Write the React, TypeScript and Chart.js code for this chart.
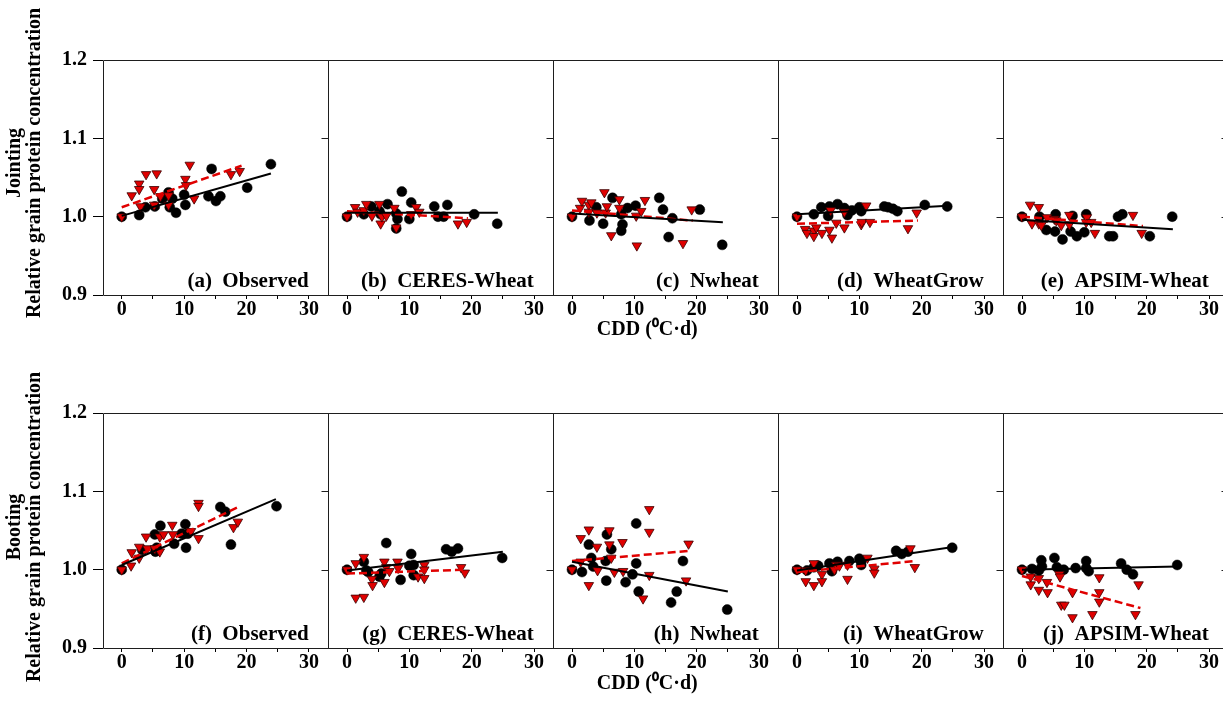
import React, { useEffect, useRef } from "react";
import { Chart, registerables } from "chart.js";

Chart.register(...registerables);

type P = [number, number];

// ---------- axis ticks ----------
const xTickValues = [0, 5, 10, 15, 20, 25, 30];
const xLabelEvery = 10;
const yTickValues = [0.9, 1.0, 1.1, 1.2];
const xMin = -3;
const xMax = 33;
const yMin = 0.9;
const yMax = 1.2;

const stageLabels = ["Jointing", "Booting"];
const yTitle = "Relative grain protein concentration";
const xTitle = "CDD (\u2070C\u00B7d)";
const panelLabels = [
  ["(a)  Observed", "(b)  CERES-Wheat", "(c)  Nwheat", "(d)  WheatGrow", "(e)  APSIM-Wheat"],
  ["(f)  Observed", "(g)  CERES-Wheat", "(h)  Nwheat", "(i)  WheatGrow", "(j)  APSIM-Wheat"],
];

// ---------- Jointing ----------
const jointObservedCircles: P[] = [[0, 1.0], [2.8, 1.002], [3.8, 1.012], [5.3, 1.013], [6.5, 1.023], [7.5, 1.031], [8.1, 1.023], [7.7, 1.012], [8.7, 1.005], [10, 1.028], [10.2, 1.015], [13.9, 1.026], [14.4, 1.061], [15.1, 1.02], [15.8, 1.026], [20.1, 1.037], [23.9, 1.067]];
const jointObservedTriangles: P[] = [[0, 1.0], [1.6, 1.027], [2.8, 1.042], [2.8, 1.035], [3, 1.013], [3.9, 1.054], [5.6, 1.055], [5.2, 1.035], [5.2, 1.015], [6.2, 1.026], [7.5, 1.027], [7.5, 1.015], [10.2, 1.048], [10.3, 1.04], [10.9, 1.066], [11.6, 1.023], [17.5, 1.054], [18.9, 1.058]];
const jointObservedFitCircles: P[] = [[0, 1.001], [23.9, 1.055]];
const jointObservedFitTriangles: P[] = [[0, 1.012], [19.2, 1.065]];

const jointCeresCircles: P[] = [[0, 1.0], [2.7, 1.003], [3.9, 1.013], [5.2, 1.007], [5.4, 1.003], [6.5, 1.016], [7.9, 1.004], [8.1, 0.997], [7.9, 0.985], [8.8, 1.032], [10, 0.997], [10.3, 1.018], [14, 1.013], [14.6, 1.0], [15.5, 1.0], [16.1, 1.015], [20.4, 1.003], [24.1, 0.991]];
const jointCeresTriangles: P[] = [[0, 1.0], [1.3, 1.012], [1.7, 1.006], [2.7, 1.008], [3.1, 1.016], [4, 1.001], [5.2, 1.016], [5.4, 0.991], [5.6, 1.0], [6.3, 1.001], [7.6, 1.011], [7.9, 0.986], [10.3, 1.003], [11.1, 1.012], [11.6, 1.006], [17.8, 0.991], [19.2, 0.993]];
const jointCeresFitCircles: P[] = [[0, 1.005], [24.2, 1.005]];
const jointCeresFitTriangles: P[] = [[0, 1.007], [19.4, 0.998]];

const jointNwheatCircles: P[] = [[0, 1.0], [2.8, 0.995], [3.9, 1.012], [5.0, 0.991], [6.5, 1.024], [7.9, 1.003], [8.1, 0.99], [7.9, 0.982], [8.9, 1.011], [10.2, 1.014], [14, 1.024], [14.6, 1.009], [16.1, 0.998], [15.5, 0.974], [20.5, 1.009], [24.1, 0.964]];
const jointNwheatTriangles: P[] = [[0, 1.0], [1.3, 1.011], [1.6, 1.02], [2.7, 1.015], [3.1, 1.018], [2.7, 1.006], [4, 1.005], [5.2, 1.031], [5.4, 1.005], [5.6, 1.013], [6.3, 0.976], [7.6, 1.022], [7.6, 1.011], [10.3, 1.001], [10.4, 0.963], [11.1, 1.007], [11.7, 1.021], [17.8, 0.966], [19.2, 1.009]];
const jointNwheatFitCircles: P[] = [[0, 1.004], [24.2, 0.993]];
const jointNwheatFitTriangles: P[] = [[0, 1.008], [19.4, 0.995]];

const jointWheatGrowCircles: P[] = [[0, 1.0], [2.7, 1.003], [3.9, 1.012], [5.2, 1.013], [5.0, 1.001], [6.5, 1.016], [7.6, 1.011], [8.1, 1.002], [8.8, 1.008], [10, 1.012], [10.3, 1.007], [14, 1.013], [14.6, 1.012], [15.4, 1.01], [16.1, 1.007], [20.5, 1.015], [24.1, 1.013]];
const jointWheatGrowTriangles: P[] = [[0, 1.0], [1.3, 0.984], [1.6, 0.979], [2.7, 0.982], [2.7, 0.975], [3.1, 0.986], [4, 0.979], [5.2, 0.983], [5.4, 1.008], [5.6, 0.973], [6.3, 0.992], [7.6, 1.006], [7.6, 0.986], [10.3, 0.99], [10.4, 0.993], [11.1, 1.014], [11.7, 0.993], [17.8, 0.985], [19.2, 1.005]];
const jointWheatGrowFitCircles: P[] = [[0, 1.003], [24.2, 1.014]];
const jointWheatGrowFitTriangles: P[] = [[0, 0.991], [19.4, 0.995]];

const jointApsimCircles: P[] = [[0, 1.0], [2.8, 1.0], [3.9, 0.983], [5.4, 1.003], [5.3, 0.981], [6.5, 0.971], [7.8, 0.981], [8.1, 1.001], [8.8, 0.975], [10, 0.98], [10.3, 1.003], [14, 0.975], [14.6, 0.975], [15.4, 1.0], [16.1, 1.003], [20.5, 0.975], [24.1, 1.0]];
const jointApsimTriangles: P[] = [[0, 1.0], [1.3, 1.015], [1.6, 0.991], [2.7, 1.012], [2.7, 0.991], [3.1, 0.989], [4, 0.999], [5.2, 0.997], [5.5, 0.995], [6.3, 0.989], [7.6, 1.002], [7.6, 0.99], [10.3, 0.993], [10.4, 0.999], [11.1, 0.993], [11.7, 0.979], [17.8, 1.002], [19.2, 0.979]];
const jointApsimFitCircles: P[] = [[0, 0.996], [24.2, 0.984]];
const jointApsimFitTriangles: P[] = [[0, 1.0], [19.4, 0.988]];

// ---------- Booting ----------
const bootObservedCircles: P[] = [[0, 1.0], [3.3, 1.025], [5.3, 1.045], [5.4, 1.023], [5.6, 1.028], [6.2, 1.056], [8.4, 1.033], [9.6, 1.046], [10.2, 1.058], [10.3, 1.028], [10.6, 1.046], [15.8, 1.08], [16.6, 1.074], [17.5, 1.032], [24.8, 1.081]];
const bootObservedTriangles: P[] = [[0, 1.0], [1.5, 1.005], [1.6, 1.022], [2.8, 1.015], [2.8, 1.029], [3.9, 1.042], [4.1, 1.027], [5.3, 1.027], [6.1, 1.023], [6.1, 1.042], [6.7, 1.045], [8.1, 1.057], [8.2, 1.045], [11.1, 1.049], [12.3, 1.085], [12.3, 1.081], [12.3, 1.04], [17.9, 1.054], [18.6, 1.061]];
const bootObservedFitCircles: P[] = [[0, 1.006], [24.7, 1.09]];
const bootObservedFitTriangles: P[] = [[0, 1.008], [18.9, 1.081]];

const bootCeresCircles: P[] = [[0, 1.0], [2.7, 1.01], [3.1, 0.999], [3.4, 0.997], [5.2, 0.991], [5.5, 0.995], [6.3, 1.034], [8.6, 0.987], [10.3, 1.02], [10, 1.005], [10.7, 1.006], [10.7, 0.993], [15.9, 1.026], [16.8, 1.023], [17.8, 1.027], [24.9, 1.015]];
const bootCeresTriangles: P[] = [[0, 1.0], [1.4, 1.008], [1.4, 0.964], [2.7, 1.016], [2.7, 0.965], [4, 0.988], [4.1, 0.98], [6, 1.01], [6, 0.984], [6.3, 1.003], [6.8, 0.998], [8.1, 1.01], [8.2, 1.002], [11.4, 0.991], [12.4, 1.006], [12.4, 1.0], [12.4, 0.989], [18.3, 1.003], [18.9, 0.996]];
const bootCeresFitCircles: P[] = [[0, 0.999], [25, 1.023]];
const bootCeresFitTriangles: P[] = [[0, 0.995], [18.9, 1.0]];

const bootNwheatCircles: P[] = [[0, 1.0], [1.6, 0.997], [2.7, 1.032], [3.1, 1.015], [3.4, 1.004], [5.5, 0.986], [5.4, 1.011], [5.6, 1.045], [6.3, 1.026], [8.6, 0.984], [9.7, 0.994], [10.3, 1.008], [10.3, 1.059], [10.7, 0.972], [15.9, 0.958], [16.8, 0.972], [17.8, 1.011], [24.9, 0.949]];
const bootNwheatTriangles: P[] = [[0, 1.0], [1.4, 1.01], [1.4, 1.04], [2.7, 1.051], [2.7, 0.98], [4, 1.029], [4.1, 0.999], [6, 1.05], [6, 1.032], [6.3, 1.015], [6.8, 0.997], [8.1, 1.035], [8.2, 0.998], [11.4, 0.963], [12.4, 1.077], [12.4, 1.048], [12.4, 0.993], [18.3, 0.986], [18.7, 1.033]];
const bootNwheatFitCircles: P[] = [[0, 1.01], [25, 0.972]];
const bootNwheatFitTriangles: P[] = [[0, 1.011], [18.9, 1.024]];

const bootWheatGrowCircles: P[] = [[0, 1.0], [1.6, 0.999], [2.7, 1.003], [3.4, 1.005], [5.2, 1.008], [5.6, 0.998], [6.5, 1.01], [8.4, 1.011], [10, 1.014], [10.3, 1.006], [10.3, 1.011], [15.9, 1.024], [16.8, 1.02], [17.8, 1.023], [24.9, 1.028]];
const bootWheatGrowTriangles: P[] = [[0, 1.0], [1.4, 0.999], [1.4, 0.985], [2.7, 1.008], [2.7, 0.98], [4, 0.994], [4, 0.985], [6, 1.0], [6.3, 1.006], [6.8, 1.005], [8.1, 1.006], [8.1, 0.988], [11.3, 1.015], [12.4, 1.001], [12.4, 0.996], [18.2, 1.027], [18.9, 1.003]];
const bootWheatGrowFitCircles: P[] = [[0, 0.999], [25, 1.029]];
const bootWheatGrowFitTriangles: P[] = [[0, 0.997], [19, 1.011]];

const bootApsimCircles: P[] = [[0, 1.0], [1.6, 1.001], [2.7, 0.999], [3.1, 1.012], [3.2, 1.004], [5.2, 1.015], [5.6, 1.003], [6.7, 1.0], [8.6, 1.002], [10.3, 1.011], [10.3, 1.002], [10.7, 0.998], [15.9, 1.008], [16.8, 1.0], [17.8, 0.994], [24.9, 1.006]];
const bootApsimTriangles: P[] = [[0, 1.0], [1.4, 0.991], [1.4, 0.981], [2.7, 0.989], [2.7, 0.974], [4, 0.984], [4.1, 0.971], [6, 0.994], [6.1, 0.991], [6.3, 0.955], [6.8, 0.955], [8.1, 0.971], [8.1, 0.939], [11.3, 0.943], [12.4, 0.99], [12.4, 0.971], [12.4, 0.959], [18.2, 0.943], [18.7, 0.981]];
const bootApsimFitCircles: P[] = [[0, 1.0], [25, 1.004]];
const bootApsimFitTriangles: P[] = [[0, 0.992], [19, 0.951]];

const panelData: { circles: P[]; triangles: P[]; fitC: P[]; fitT: P[] }[][] = [
  [
    { circles: jointObservedCircles, triangles: jointObservedTriangles, fitC: jointObservedFitCircles, fitT: jointObservedFitTriangles },
    { circles: jointCeresCircles, triangles: jointCeresTriangles, fitC: jointCeresFitCircles, fitT: jointCeresFitTriangles },
    { circles: jointNwheatCircles, triangles: jointNwheatTriangles, fitC: jointNwheatFitCircles, fitT: jointNwheatFitTriangles },
    { circles: jointWheatGrowCircles, triangles: jointWheatGrowTriangles, fitC: jointWheatGrowFitCircles, fitT: jointWheatGrowFitTriangles },
    { circles: jointApsimCircles, triangles: jointApsimTriangles, fitC: jointApsimFitCircles, fitT: jointApsimFitTriangles },
  ],
  [
    { circles: bootObservedCircles, triangles: bootObservedTriangles, fitC: bootObservedFitCircles, fitT: bootObservedFitTriangles },
    { circles: bootCeresCircles, triangles: bootCeresTriangles, fitC: bootCeresFitCircles, fitT: bootCeresFitTriangles },
    { circles: bootNwheatCircles, triangles: bootNwheatTriangles, fitC: bootNwheatFitCircles, fitT: bootNwheatFitTriangles },
    { circles: bootWheatGrowCircles, triangles: bootWheatGrowTriangles, fitC: bootWheatGrowFitCircles, fitT: bootWheatGrowFitTriangles },
    { circles: bootApsimCircles, triangles: bootApsimTriangles, fitC: bootApsimFitCircles, fitT: bootApsimFitTriangles },
  ],
];

// ---------- layout ----------
const FONT = '"Liberation Serif", "Times New Roman", serif';
const RED = "#e00000";
const rowTops = [60, 413];
const PLOT_H = 235;
const colLefts = [103, 328, 553, 778, 1003, 1228];
const PAD_R = 6;
const AXIS_B = 70;
const xTitleOffset = [35, 36];
const yTitleCenters = [163, 527];

const panelPlugin = {
  id: "panelDecor",
  afterDraw(chart: any, _args: any, opts: any) {
    const { ctx, chartArea: a, scales } = chart;
    const L = Math.round(a.left) + 0.5;
    const T = Math.round(a.top) + 0.5;
    const R = Math.round(a.right) + 0.5;
    const B = Math.round(a.bottom) + 0.5;
    ctx.save();
    ctx.strokeStyle = "#1e1e1e";
    ctx.lineWidth = 1;
    ctx.beginPath();
    ctx.rect(L, T, R - L, B - T);
    ctx.stroke();
    for (const v of yTickValues) {
      const py = Math.round(scales.y.getPixelForValue(v)) + 0.5;
      ctx.beginPath();
      ctx.moveTo(R - 7, py);
      ctx.lineTo(R, py);
      ctx.stroke();
    }
    ctx.fillStyle = "#000";
    ctx.font = `bold 21px ${FONT}`;
    ctx.textAlign = "right";
    ctx.textBaseline = "alphabetic";
    ctx.fillText(opts.label, a.right - 19, a.bottom - 8);
    if (opts.showXTitle) {
      ctx.font = `bold 20px ${FONT}`;
      ctx.textAlign = "center";
      ctx.textBaseline = "middle";
      ctx.fillText(xTitle, a.left + 94, a.bottom + opts.xTitleOffset);
    }
    if (opts.showYTitle) {
      ctx.font = `bold 20px ${FONT}`;
      ctx.textAlign = "center";
      ctx.textBaseline = "middle";
      const cy = opts.yTitleCenter;
      ctx.save();
      ctx.translate(15, cy);
      ctx.rotate(-Math.PI / 2);
      ctx.fillText(opts.stage, 0, 0);
      ctx.restore();
      ctx.save();
      ctx.translate(35, cy);
      ctx.rotate(-Math.PI / 2);
      ctx.fillText(yTitle, 0, 0);
      ctx.restore();
    }
    ctx.restore();
  },
};

function Panel({ row, col }: { row: number; col: number }) {
  const ref = useRef<HTMLCanvasElement>(null);
  const plotW = colLefts[col + 1] - colLefts[col];
  const padL = col === 0 ? colLefts[0] : 6;
  const padT = col === 0 ? 58 : 20;
  const left = colLefts[col] - padL;
  const top = rowTops[row] - padT;
  const width = padL + plotW + PAD_R;
  const height = padT + PLOT_H + AXIS_B;

  useEffect(() => {
    const d = panelData[row][col];
    const tickFont = { family: FONT, size: 20, weight: "bold" as const };
    const chart = new Chart(ref.current as HTMLCanvasElement, {
      type: "scatter",
      data: {
        datasets: [
          { data: d.fitC.map(([x, y]) => ({ x, y })), showLine: true, borderColor: "#000", borderWidth: 2, pointRadius: 0, order: 1 },
          { data: d.fitT.map(([x, y]) => ({ x, y })), showLine: true, borderColor: RED, borderWidth: 2.5, borderDash: [8, 4], pointRadius: 0, order: 2 },
          { data: d.triangles.map(([x, y]) => ({ x, y })), pointStyle: "triangle", rotation: 180, pointRadius: 5.5, backgroundColor: RED, borderColor: "#3a0000", borderWidth: 0.8, order: 3 },
          { data: d.circles.map(([x, y]) => ({ x, y })), pointStyle: "circle", pointRadius: 5, backgroundColor: "#000", borderColor: "#000", borderWidth: 0.5, order: 4 },
        ],
      },
      options: {
        animation: false,
        responsive: false,
        devicePixelRatio: 1,
        layout: { padding: { left: 0, right: PAD_R, top: padT, bottom: 0 } },
        plugins: {
          legend: { display: false },
          tooltip: { enabled: false },
          panelDecor: {
            label: panelLabels[row][col],
            showXTitle: col === 2,
            xTitleOffset: xTitleOffset[row],
            showYTitle: col === 0,
            yTitleCenter: yTitleCenters[row] - top,
            stage: stageLabels[row],
          },
        } as any,
        scales: {
          x: {
            type: "linear",
            min: xMin,
            max: xMax,
            afterBuildTicks: (s: any) => {
              s.ticks = xTickValues.map((value) => ({ value }));
            },
            afterFit: (s: any) => {
              s.height = AXIS_B;
            },
            ticks: {
              autoSkip: false,
              maxRotation: 0,
              padding: -1,
              color: "#000",
              font: tickFont,
              callback: (v: any) => (Number(v) % xLabelEvery === 0 ? String(v) : ""),
            },
            grid: { display: true, drawOnChartArea: false, drawTicks: true, tickLength: 4, color: "#000", lineWidth: 1 },
            border: { display: false },
          },
          y: {
            type: "linear",
            min: yMin,
            max: yMax,
            afterBuildTicks: (s: any) => {
              s.ticks = yTickValues.map((value) => ({ value }));
            },
            afterFit: (s: any) => {
              s.width = padL;
            },
            ticks: {
              display: col === 0,
              padding: 6,
              color: "#000",
              font: tickFont,
              callback: (v: any) => Number(v).toFixed(1),
            },
            grid: { display: col === 0, drawOnChartArea: false, drawTicks: true, tickLength: 10, color: "#000", lineWidth: 1 },
            border: { display: false },
          },
        },
      },
      plugins: [panelPlugin],
    } as any);
    return () => chart.destroy();
  }, []);

  return (
    <canvas
      ref={ref}
      width={width}
      height={height}
      style={{ position: "absolute", left, top, width, height }}
    />
  );
}

export default function App() {
  const cells: React.ReactNode[] = [];
  for (let r = 0; r < 2; r++) {
    for (let c = 0; c < 5; c++) {
      cells.push(<Panel key={`${r}-${c}`} row={r} col={c} />);
    }
  }
  return (
    <div style={{ position: "absolute", left: 0, top: 0, width: 1223, height: 718, overflow: "hidden", background: "#fff" }}>
      {cells}
    </div>
  );
}
